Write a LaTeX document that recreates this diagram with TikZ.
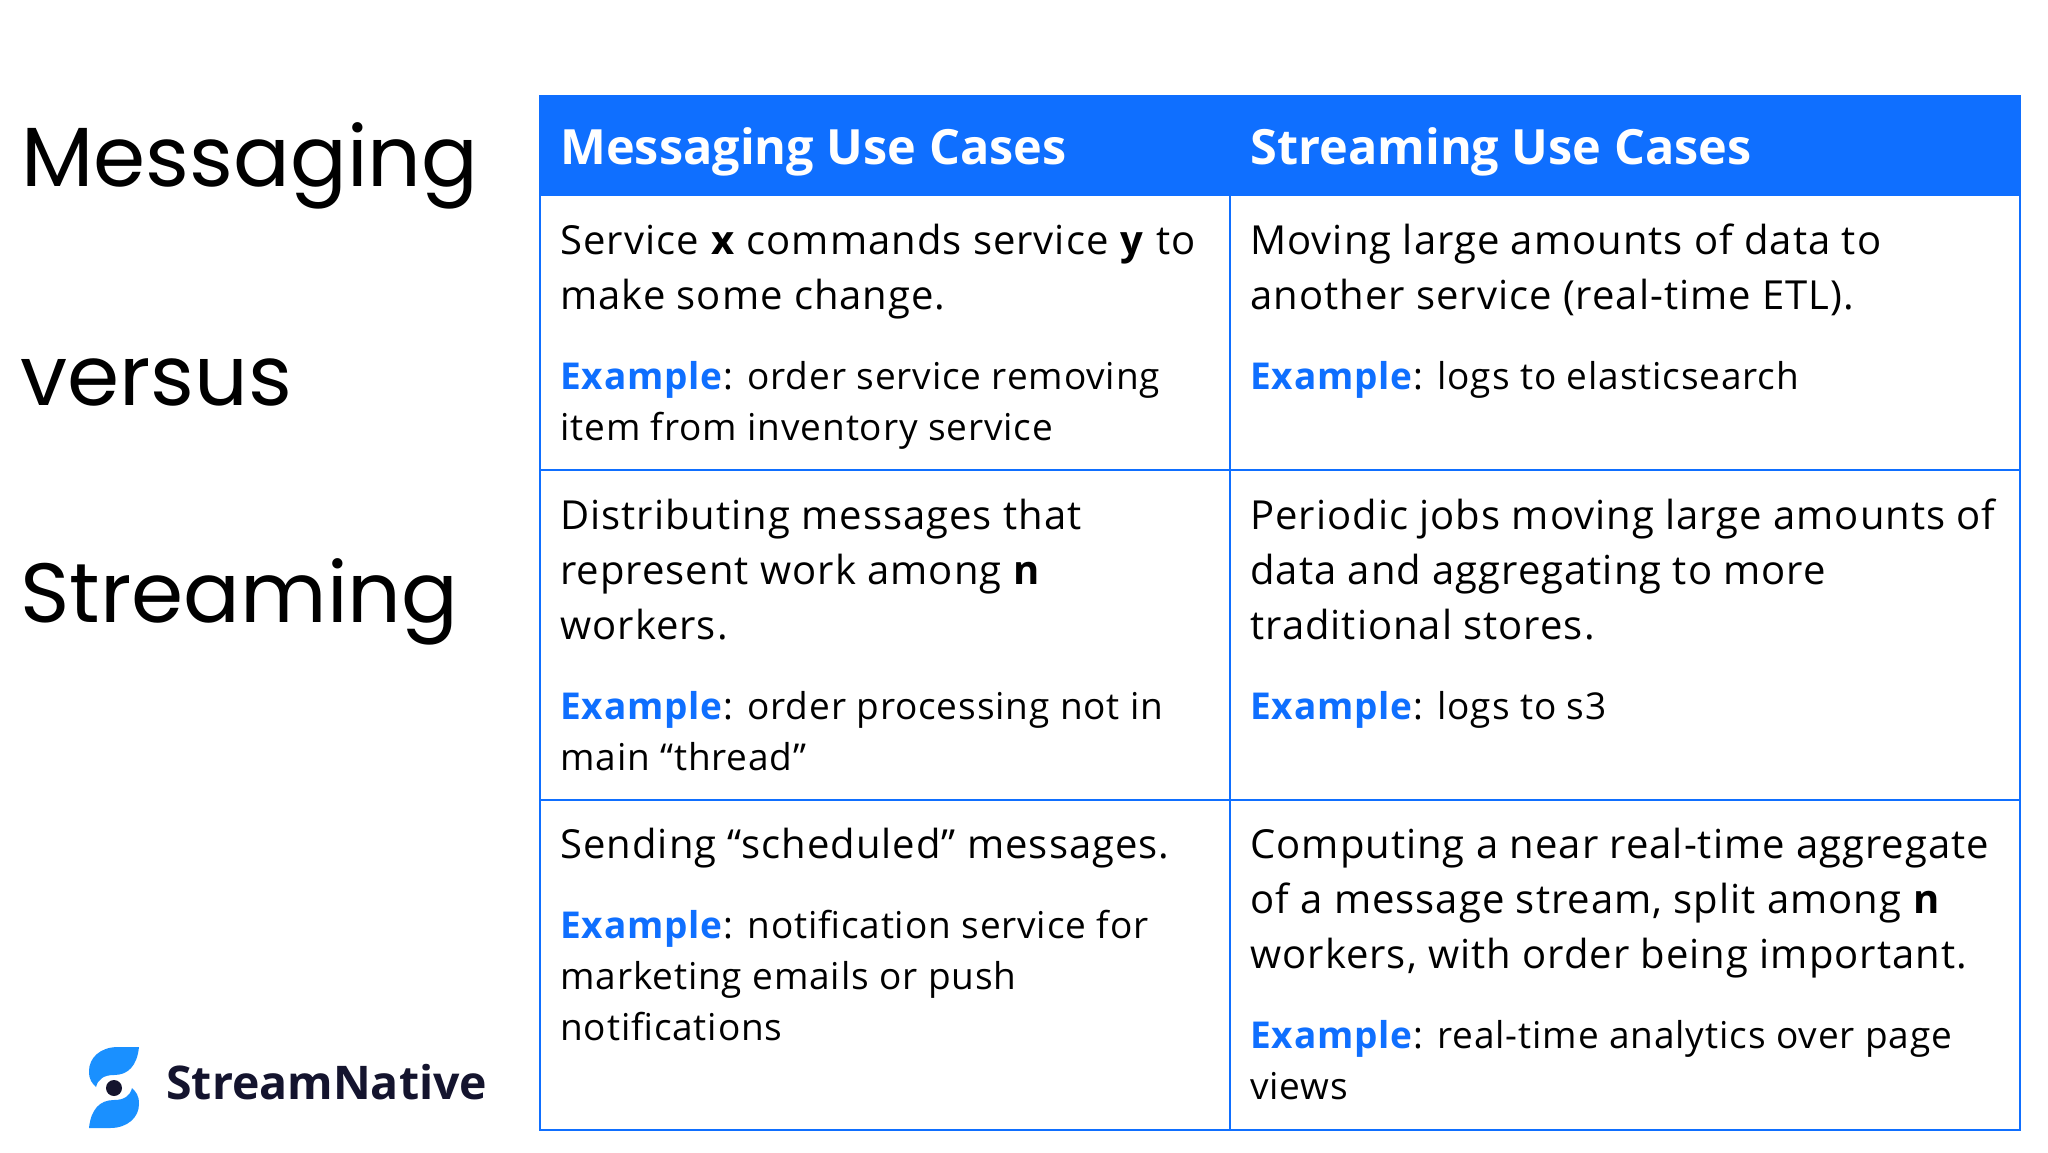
\documentclass[tikz,border=0pt]{standalone}
\usepackage{fontspec}
\setmainfont{Open Sans}
\newfontfamily\titlefont{Poppins}
\newfontfamily\bodyfont[LetterSpace=2.5]{Open Sans}
\newfontfamily\examplefont[LetterSpace=2.3]{Open Sans}
\definecolor{tableblue}{HTML}{0F6FFF}
\definecolor{logoblue}{HTML}{1A90FF}
\definecolor{logonavy}{HTML}{14142E}
\newcommand{\exword}{\textcolor{tableblue}{\textbf{Example}}}
\tikzset{
  sidetitle/.style={anchor=base west, inner sep=0pt, font=\titlefont\fontsize{42}{42}\selectfont},
  headcell/.style={anchor=base west, inner sep=0pt, text=white, font=\fontsize{24.3}{24.3}\selectfont\bfseries},
  cellmain/.style={anchor=base west, inner sep=0pt, align=left, font=\bodyfont\fontsize{20}{27.5}\selectfont},
  cellexample/.style={anchor=base west, inner sep=0pt, align=left, font=\examplefont\fontsize{18.5}{25.5}\selectfont},
  gridline/.style={tableblue, line width=1pt}
}
\begin{document}
\begin{tikzpicture}[x=0.5pt, y=-0.5pt]
  \useasboundingbox[fill=white] (0,0) rectangle (2048,1152);

  \node[sidetitle] (messaging) at (21,186) {Messaging};
  \node[sidetitle] (versus) at (20,405) {versus};
  \node[sidetitle] (streaming) at (20,622) {Streaming};

  % table
  \fill[tableblue] (540,96) rectangle (2020,196);
  \draw[gridline] (540,96) rectangle (2020,1130);
  \draw[gridline] (540,470) -- (2020,470);
  \draw[gridline] (540,800) -- (2020,800);
  \draw[gridline] (1230,196) -- (1230,1130);

  \node[headcell] (headleft) at (560,164) {Messaging Use Cases};
  \node[headcell] (headright) at (1250,164) {Streaming Use Cases};

  % row one
  \node[cellmain] (a1) at (560,309) {Service \textbf{x} commands service \textbf{y} to\\make some change.};
  \node[cellexample] (a2) at (560,440) {\exword: order service removing\\item from inventory service};
  \node[cellmain] (b1) at (1250,309) {Moving large amounts of data to\\another service (real-time ETL).};
  \node[cellexample] (b2) at (1250,389) {\exword: logs to elasticsearch};

  % row two
  \node[cellmain] (c1) at (560,639) {Distributing messages that\\represent work among \textbf{n}\\workers.};
  \node[cellexample] (c2) at (560,770) {\exword: order processing not in\\main “thread”};
  \node[cellmain] (d1) at (1250,639) {Periodic jobs moving large amounts of\\data and aggregating to more\\traditional stores.};
  \node[cellexample] (d2) at (1250,719) {\exword: logs to s3};

  % row three
  \node[cellmain] (e1) at (560,858) {Sending “scheduled” messages.};
  \node[cellexample] (e2) at (560,1040) {\exword: notification service for\\marketing emails or push\\notifications};
  \node[cellmain] (f1) at (1250,968) {Computing a near real-time aggregate\\of a message stream, split among \textbf{n}\\workers, with order being important.};
  \node[cellexample] (f2) at (1250,1099) {\exword: real-time analytics over page\\views};

  % logo
  \fill[logoblue] (139,1047) -- (118,1047) .. controls (100,1047) and (89,1058) .. (89,1071)
    .. controls (89,1080) and (92,1083) .. (96,1087) .. controls (98,1079) and (104,1075) .. (114,1075)
    .. controls (128,1075) and (137,1066) .. (139,1047) -- cycle;
  \fill[logoblue] (89,1128) -- (110,1128) .. controls (128,1128) and (139,1117) .. (139,1104)
    .. controls (139,1095) and (136,1092) .. (132,1088) .. controls (130,1096) and (124,1100) .. (114,1100)
    .. controls (100,1100) and (91,1109) .. (89,1128) -- cycle;
  \fill[logonavy] (114,1088) circle (8);
  \node[anchor=base west, inner sep=0pt, text=logonavy, font=\fontsize{23.2}{23.2}\selectfont\bfseries] (brand) at (166,1099) {StreamNative};
\end{tikzpicture}
\end{document}
